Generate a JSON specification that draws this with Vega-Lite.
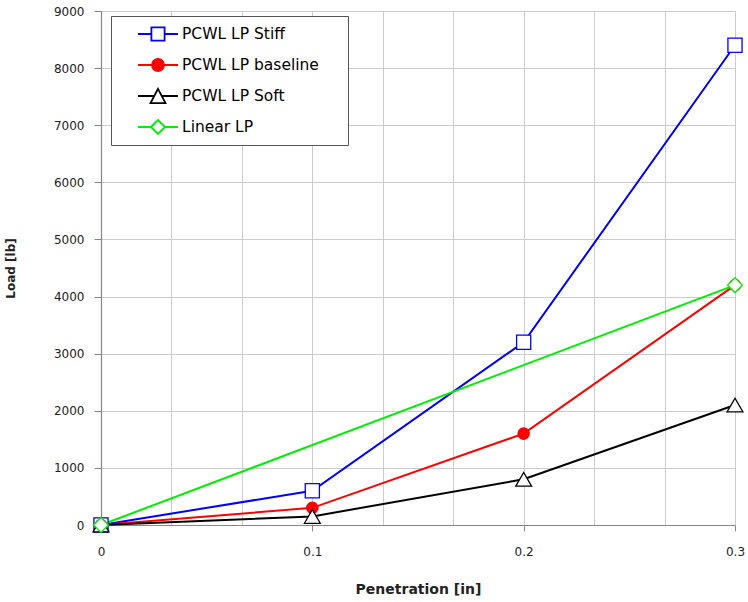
{
  "$schema": "https://vega.github.io/schema/vega-lite/v6.json",
  "width": 634,
  "height": 514,
  "autosize": "none",
  "padding": {"left": 101, "top": 11, "right": 13, "bottom": 77},
  "background": "white",
  "config": {"view": {"stroke": null}, "font": "DejaVu Sans"},
  "data": {
    "values": [
      {"series": "PCWL LP Stiff", "pen": 0, "load": 0},
      {"series": "PCWL LP Stiff", "pen": 0.1, "load": 600},
      {"series": "PCWL LP Stiff", "pen": 0.2, "load": 3200},
      {"series": "PCWL LP Stiff", "pen": 0.3, "load": 8400},
      {"series": "PCWL LP baseline", "pen": 0, "load": 0},
      {"series": "PCWL LP baseline", "pen": 0.1, "load": 300},
      {"series": "PCWL LP baseline", "pen": 0.2, "load": 1600},
      {"series": "PCWL LP baseline", "pen": 0.3, "load": 4200},
      {"series": "PCWL LP Soft", "pen": 0, "load": 0},
      {"series": "PCWL LP Soft", "pen": 0.1, "load": 150},
      {"series": "PCWL LP Soft", "pen": 0.2, "load": 800},
      {"series": "PCWL LP Soft", "pen": 0.3, "load": 2100},
      {"series": "Linear LP", "pen": 0, "load": 0},
      {"series": "Linear LP", "pen": 0.3, "load": 4200}
    ]
  },
  "encoding": {
    "x": {
      "field": "pen",
      "type": "quantitative",
      "scale": {"domain": [0, 0.3], "nice": false, "zero": false},
      "axis": {
        "values": [0, 0.0333333, 0.0666667, 0.1, 0.1333333, 0.1666667, 0.2, 0.2333333, 0.2666667, 0.3],
        "grid": true,
        "gridColor": "#cccccc",
        "gridWidth": 1,
        "domainColor": "#868686",
        "domainWidth": 1.2,
        "tickColor": "#868686",
        "tickSize": 6,
        "tickOpacity": {"condition": {"test": "abs(datum.value*10 - round(datum.value*10)) < 0.001", "value": 1}, "value": 0},
        "labelExpr": "abs(datum.value*10 - round(datum.value*10)) < 0.001 ? (round(datum.value*10)/10) + '' : ''",
        "labelFont": "DejaVu Sans",
        "labelFontSize": 12,
        "labelColor": "#222222",
        "labelPadding": 15,
        "labelFlush": false,
        "labelOverlap": false,
        "title": "Penetration [in]",
        "titleFont": "DejaVu Sans",
        "titleFontSize": 14,
        "titleFontWeight": "bold",
        "titleColor": "#222222",
        "titleY": 64,
        "titleBaseline": "middle"
      }
    },
    "y": {
      "field": "load",
      "type": "quantitative",
      "scale": {"domain": [0, 9000], "nice": false},
      "axis": {
        "values": [0, 1000, 2000, 3000, 4000, 5000, 6000, 7000, 8000, 9000],
        "grid": true,
        "gridColor": "#cccccc",
        "gridWidth": 1,
        "domainColor": "#868686",
        "domainWidth": 1.2,
        "tickColor": "#868686",
        "tickSize": 7,
        "labelFont": "DejaVu Sans",
        "labelFontSize": 12,
        "labelColor": "#222222",
        "labelPadding": 10,
        "labelOverlap": false,
        "format": "d",
        "title": "Load [lb]",
        "titleFont": "DejaVu Sans",
        "titleFontSize": 12,
        "titleFontWeight": "bold",
        "titleColor": "#222222",
        "titleX": -91,
        "titleY": 257,
        "titleAngle": -90,
        "titleAlign": "center",
        "titleBaseline": "middle"
      }
    },
    "color": {
      "field": "series",
      "type": "nominal",
      "scale": {
        "domain": ["PCWL LP Stiff", "PCWL LP baseline", "PCWL LP Soft", "Linear LP"],
        "range": ["#0000ff", "#ff0000", "#000000", "#00ee00"]
      },
      "legend": {
        "orient": "none",
        "legendX": 10,
        "legendY": 5,
        "title": "\u00a0",
        "titleOrient": "right",
        "titleFontSize": 15,
        "titleColor": "#ffffff",
        "titlePadding": 20,
        "padding": 9,
        "strokeColor": "#555555",
        "fillColor": "#ffffff",
        "symbolSize": 1600,
        "symbolStrokeWidth": 1.8,
        "symbolOffset": 17,
        "labelOffset": 3,
        "clipHeight": 18,
        "rowPadding": 13,
        "labelFont": "DejaVu Sans",
        "labelFontSize": 15.5,
        "labelColor": "#000000",
        "labelLimit": 0,
        "encode": {
          "symbols": {
            "update": {
              "shape": {"signal": "datum.value === 'PCWL LP Stiff' ? 'M-1,0H-0.33M0.33,0H1M-0.33,-0.33H0.33V0.33H-0.33Z' : datum.value === 'PCWL LP baseline' ? 'M-1,0H1M0.3,0A0.3,0.3 0 1 1 -0.3,0A0.3,0.3 0 1 1 0.3,0Z' : datum.value === 'PCWL LP Soft' ? 'M-1,0H-0.2M0.2,0H1M0,-0.36L0.375,0.36L-0.375,0.36Z' : 'M-1,0H-0.35M0.35,0H1M-0.35,0L0,-0.35L0.35,0L0,0.35Z'"},
              "fill": {"signal": "datum.value === 'PCWL LP baseline' ? '#ff0000' : '#ffffff'"},
              "fillOpacity": {"signal": "datum.value === 'PCWL LP baseline' ? 1 : 0"},
              "stroke": {"scale": "color", "field": "value"},
              "strokeWidth": {"value": 1.8},
              "size": {"value": 1600},
              "opacity": {"value": 1}
            }
          }
        }
      }
    }
  },
  "layer": [
    {"mark": {"type": "line", "strokeWidth": 2}},
    {
      "transform": [{"filter": "datum.series === 'PCWL LP Stiff'"}],
      "mark": {"type": "point", "shape": "square", "filled": false, "fill": "#ffffff", "size": 200, "strokeWidth": 1.3, "opacity": 1}
    },
    {
      "transform": [{"filter": "datum.series === 'PCWL LP baseline'"}],
      "mark": {"type": "point", "shape": "circle", "filled": true, "size": 160, "opacity": 1}
    },
    {
      "transform": [{"filter": "datum.series === 'PCWL LP Soft'"}],
      "mark": {"type": "point", "shape": "triangle-up", "filled": false, "fill": "#ffffff", "size": 250, "strokeWidth": 1.3, "opacity": 1}
    },
    {
      "transform": [{"filter": "datum.series === 'Linear LP'"}],
      "mark": {"type": "point", "shape": "diamond", "filled": false, "fill": "#ffffff", "size": 220, "strokeWidth": 1.3, "opacity": 1}
    }
  ]
}
